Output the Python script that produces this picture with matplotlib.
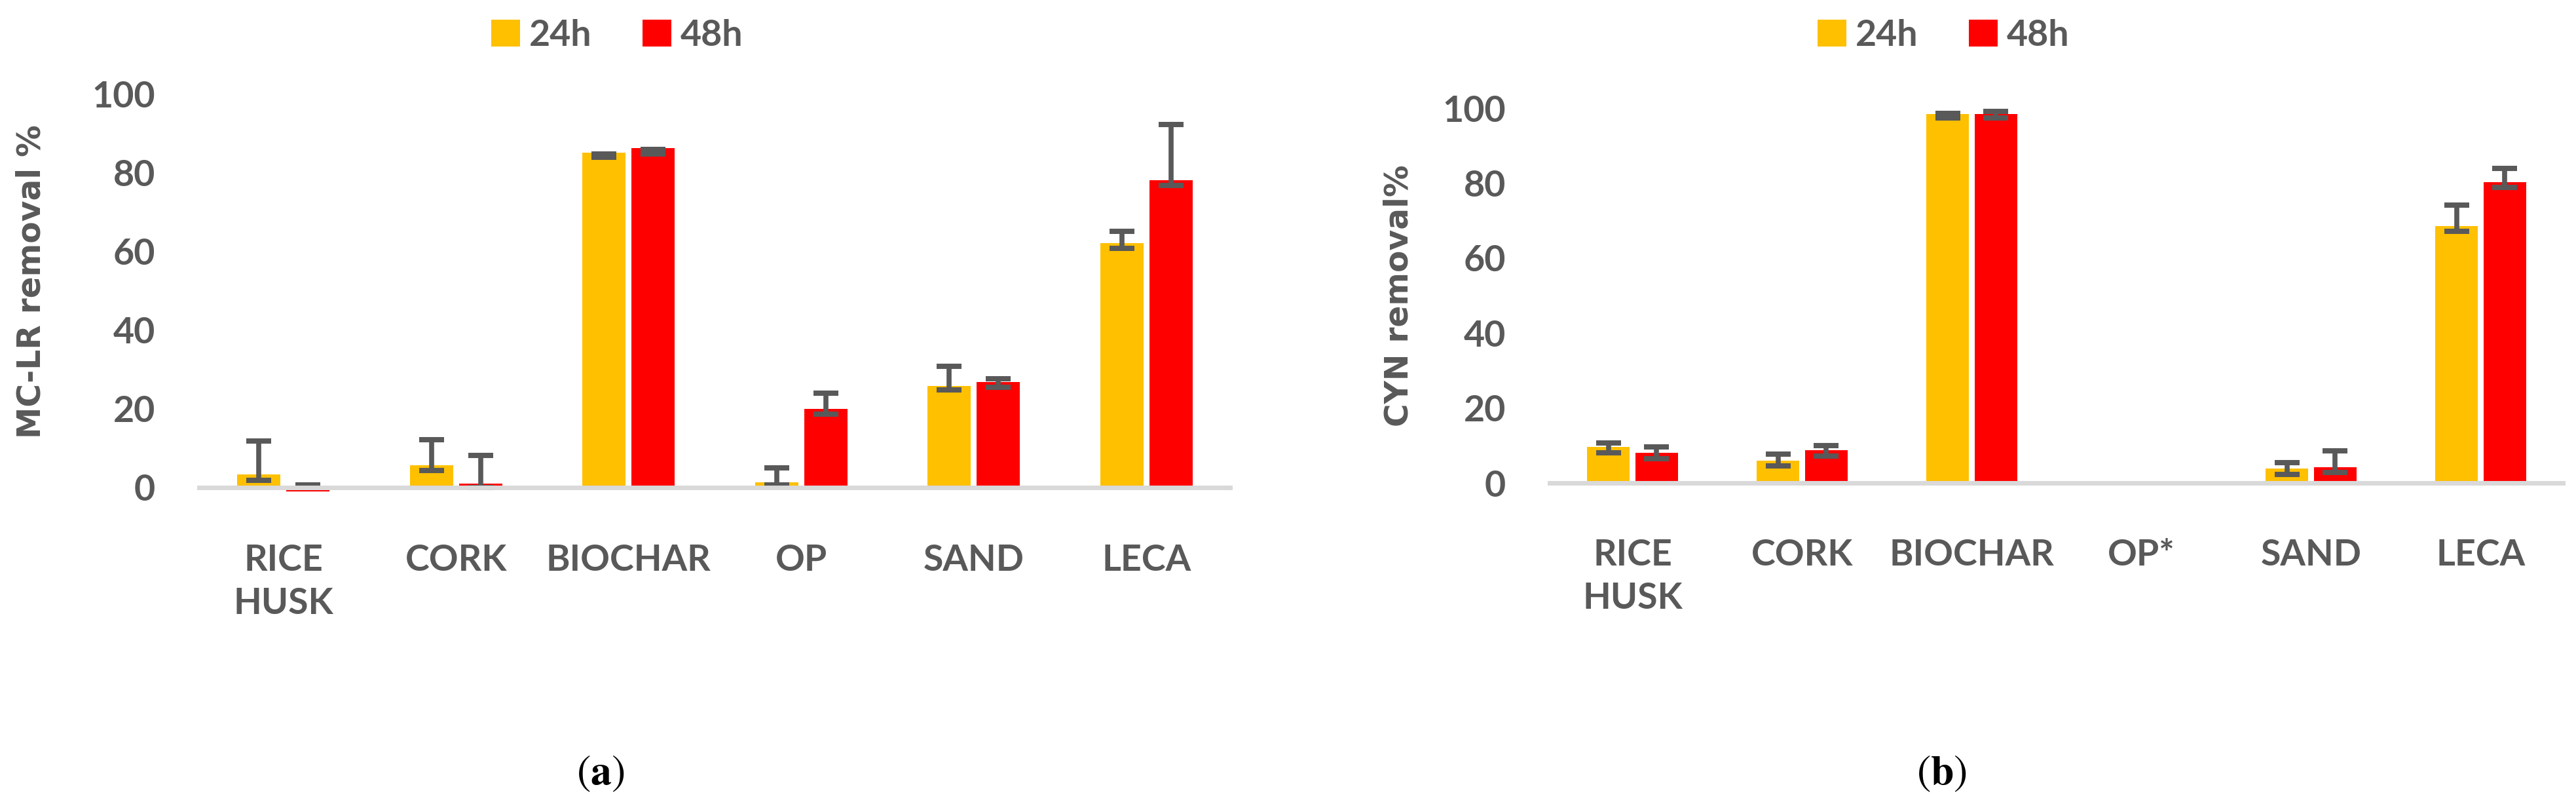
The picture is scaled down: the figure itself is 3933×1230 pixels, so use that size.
import numpy as np
import matplotlib
matplotlib.use('Agg')
import matplotlib.pyplot as plt

# categories
materials_a = ['RICE\nHUSK', 'CORK', 'BIOCHAR', 'OP', 'SAND', 'LECA']
materials_b = ['RICE\nHUSK', 'CORK', 'BIOCHAR', 'OP*', 'SAND', 'LECA']
yticks = [0, 20, 40, 60, 80, 100]

# MC-LR removal % (bar value, lower and upper end of the error bar)
mclr_24 = [3.4, 5.6, 85.2, 1.3, 25.8, 62.2]
mclr_24_lo = [1.9, 4.4, 84.0, 0.7, 24.8, 60.9]
mclr_24_hi = [11.9, 12.2, 84.8, 5.0, 30.8, 65.2]
mclr_48 = [-1.0, 1.0, 86.3, 20.0, 26.9, 78.2]
mclr_48_lo = [0.0, 0.0, 84.9, 18.7, 25.5, 76.9]
mclr_48_hi = [0.7, 8.2, 86.0, 24.0, 27.7, 92.3]

# CYN removal % (OP* has no data)
cyn_24 = [9.7, 6.0, 98.4, np.nan, 3.9, 68.5]
cyn_24_lo = [8.1, 4.6, 97.3, np.nan, 2.4, 67.2]
cyn_24_hi = [10.8, 7.7, 98.6, np.nan, 5.5, 74.1]
cyn_48 = [8.1, 8.8, 98.5, np.nan, 4.3, 80.2]
cyn_48_lo = [6.6, 7.3, 97.3, np.nan, 2.9, 78.9]
cyn_48_hi = [9.7, 10.0, 99.2, np.nan, 8.7, 83.9]

YEL = '#FFC000'
RED = '#FF0000'
GREY = '#595959'
W, H = 3933, 1230

tick_font = dict(family='Lato', weight='bold', size=40)

fig = plt.figure(figsize=(W / 100, H / 100), dpi=100)


def err(ax, x, lo, hi):
	lo = np.array(lo, dtype=float)
	hi = np.array(hi, dtype=float)
	ok = ~np.isnan(lo)
	mid = (lo + hi) / 2
	half = (hi - lo) / 2
	ax.errorbar(x[ok], mid[ok], yerr=half[ok], fmt='none', ecolor=GREY,
		elinewidth=5.5, capsize=14, capthick=5.8, zorder=4)


def panel(ax, labels, v24, lo24, hi24, v48, lo48, hi48):
	x = np.arange(len(labels))
	off = 0.1423
	w = 0.2505
	b24 = ax.bar(x - off, v24, w, color=YEL, zorder=2)
	b48 = ax.bar(x + off, v48, w, color=RED, zorder=2)
	err(ax, x - off, lo24, hi24)
	err(ax, x + off, lo48, hi48)
	ax.axhline(0, color='#D9D9D9', lw=5, zorder=6)
	ax.set_xlim(-0.5, len(labels) - 0.5)
	ax.set_ylim(-5, 100)
	ax.set_yticks(yticks)
	ax.set_xticks(x)
	ax.set_xticklabels(labels)
	for s in ax.spines.values():
		s.set_visible(False)
	ax.tick_params(axis='y', length=0, pad=46)
	ax.tick_params(axis='x', length=0, pad=40)
	for lbl in ax.get_xticklabels() + ax.get_yticklabels():
		lbl.set_fontfamily(tick_font['family'])
		lbl.set_fontweight('bold')
		lbl.set_fontsize(tick_font['size'])
		lbl.set_color(GREY)
	for lbl in ax.get_xticklabels():
		lbl.set_linespacing(1.4)
	return b24, b48


def px_box(x0, x1, y_top, y_bot):
	return [x0 / W, 1 - y_bot / H, (x1 - x0) / W, (y_bot - y_top) / H]


# left panel: value 100 at y=144 px, value -5 at y=774 px
ax1 = fig.add_axes(px_box(301, 1882, 144, 774))
h = panel(ax1, materials_a, mclr_24, mclr_24_lo, mclr_24_hi, mclr_48, mclr_48_lo, mclr_48_hi)
ax1.legend(h, ['24h', '48h'], loc='center', bbox_to_anchor=(942 / W, 1 - 54 / H),
	bbox_transform=fig.transFigure, ncol=2, frameon=False, handlelength=0.79,
	handleheight=0.77, handletextpad=0.25, columnspacing=1.4, borderpad=0,
	prop=tick_font, labelcolor=GREY)

# right panel
ax2 = fig.add_axes(px_box(2363, 3917, 165, 766))
h = panel(ax2, materials_b, cyn_24, cyn_24_lo, cyn_24_hi, cyn_48, cyn_48_lo, cyn_48_hi)
ax2.legend(h, ['24h', '48h'], loc='center', bbox_to_anchor=(2967 / W, 1 - 54 / H),
	bbox_transform=fig.transFigure, ncol=2, frameon=False, handlelength=0.79,
	handleheight=0.77, handletextpad=0.25, columnspacing=1.4, borderpad=0,
	prop=tick_font, labelcolor=GREY)

fig.text(48 / W, 1 - 430 / H, 'MC-LR removal %', rotation=90, ha='center', va='center',
	family='DejaVu Sans', weight='bold', size=35, color=GREY)
fig.text(2135 / W, 1 - 451 / H, 'CYN removal%', rotation=90, ha='center', va='center',
	family='DejaVu Sans', weight='bold', size=35, color=GREY)

plt.rcParams['mathtext.fontset'] = 'stix'
fig.text(917 / W, 1 - 1180 / H, r'$(\mathbf{a})$', ha='center', va='center', size=46, color='black')
fig.text(2965 / W, 1 - 1180 / H, r'$(\mathbf{b})$', ha='center', va='center', size=46, color='black')

fig.savefig('out.png', dpi=100, facecolor='white')
